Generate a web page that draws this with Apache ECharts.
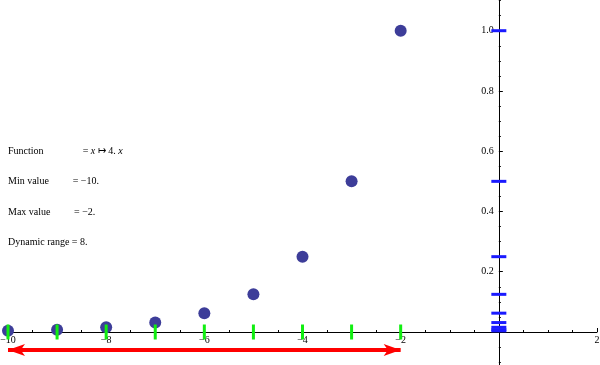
<!DOCTYPE html>
<html><head><meta charset="utf-8">
<script src="https://cdn.jsdelivr.net/npm/echarts@6/dist/echarts.min.js"></script>
<style>html,body{margin:0;padding:0;background:#fff}#c{width:600px;height:365px}</style>
</head><body><div id="c"></div>
<script>
const xValues = [-10, -9, -8, -7, -6, -5, -4, -3, -2];
const yValues = [0.0039, 0.0078, 0.0156, 0.0313, 0.0625, 0.125, 0.25, 0.5, 1.0];
const xTickLabels = [-10, -8, -6, -4, -2, 2];
const yTickLabels = [0.2, 0.4, 0.6, 0.8, 1.0];
const arrowRange = [-10, -2];
const arrowY = -0.06;
const infoLabels = ['Function', 'Min value', 'Max value', 'Dynamic range = 8.'];
const infoValues = ['{n|= }{i|x}{n| \u21A6 4. }{i|x}', '= \u221210.', '= \u22122.', ''];

const FONT = 'Liberation Serif';
const fmtNum = v => (v < 0 ? '\u2212' + (-v) : '' + v);
const chart = echarts.init(document.getElementById('c'), null, {renderer: 'canvas'});

const infoY = [151, 181.5, 212, 242];
const infoX = [82.7, 72.7, 74, 0];
const graphics = [];
infoLabels.forEach((t, i) => {
  graphics.push({type: 'text', left: 8, top: infoY[i] - 5, silent: true,
    style: {text: t, font: '10px ' + FONT, fill: '#000'}});
  if (infoValues[i]) graphics.push({type: 'text', left: infoX[i], top: infoY[i] - 5, silent: true,
    style: {text: infoValues[i], font: '10px ' + FONT, fill: '#000',
      rich: {n: {fontFamily: FONT, fontSize: 10}, i: {fontFamily: FONT, fontSize: 10, fontStyle: 'italic'}}}});
});

// grid geometry: x -10..2 spans px 8..597, y 0 at px 332, 1.0 at px 30.7
const gridLeft = 8, gridRight = 3, gridTop = -29.56, gridBottom = -27.26;
const yAxisOffset = -(589 * 10 / 12);
const xAxisOffset = -60.26;

chart.setOption({
  animation: false,
  backgroundColor: '#fff',
  grid: {left: gridLeft, right: gridRight, top: gridTop, bottom: gridBottom, containLabel: false, outerBoundsMode: 'none'},
  xAxis: {
    type: 'value', min: -10, max: 2, interval: 2, position: 'bottom', offset: xAxisOffset,
    axisLine: {onZero: false, lineStyle: {color: '#000', width: 1}},
    axisTick: {inside: true, length: 4, lineStyle: {color: '#000'}},
    minorTick: {show: true, splitNumber: 4, length: 2, lineStyle: {color: '#000'}},
    splitLine: {show: false},
    axisLabel: {margin: 3, fontFamily: FONT, fontSize: 10, color: '#000', showMinLabel: true, showMaxLabel: true,
      hideOverlap: false,
      formatter: v => (xTickLabels.indexOf(v) >= 0 ? fmtNum(v) : '')}
  },
  yAxis: {
    type: 'value', min: -0.2, max: 1.2, interval: 0.2, position: 'left', offset: yAxisOffset,
    axisLine: {onZero: false, lineStyle: {color: '#000', width: 1}},
    axisTick: {inside: true, length: 4, lineStyle: {color: '#000'}},
    minorTick: {show: true, splitNumber: 4, length: 2, lineStyle: {color: '#000'}},
    splitLine: {show: false},
    axisLabel: {margin: 5, fontFamily: FONT, fontSize: 10, color: '#000',
      formatter: v => {
        const m = yTickLabels.find(t => Math.abs(t - v) < 1e-9);
        return m !== undefined ? m.toFixed(1) : '';
      }}
  },
  graphic: graphics,
  series: [
    {type: 'scatter', symbol: 'circle', symbolSize: 12, z: 2,
      itemStyle: {color: '#3d3d99', opacity: 1},
      data: xValues.map((x, i) => [x, yValues[i]])},
    {type: 'scatter', symbol: 'rect', symbolSize: [3, 15], z: 3, silent: true,
      itemStyle: {color: '#11ee11', opacity: 1},
      data: xValues.map(x => [x, 0])},
    {type: 'scatter', symbol: 'rect', symbolSize: [15, 3], z: 3, silent: true,
      itemStyle: {color: '#1a1aff', opacity: 1},
      data: yValues.map(y => [0, y])},
    {type: 'line', data: [], silent: true,
      markLine: {silent: true, animation: false, symbol: ['arrow', 'arrow'], symbolSize: [9, 17],
        label: {show: false},
        lineStyle: {color: '#ff0000', width: 4, type: 'solid'},
        emphasis: {disabled: true},
        data: [[{coord: [arrowRange[0], arrowY]}, {coord: [arrowRange[1], arrowY]}]]}}
  ]
});
</script></body></html>
